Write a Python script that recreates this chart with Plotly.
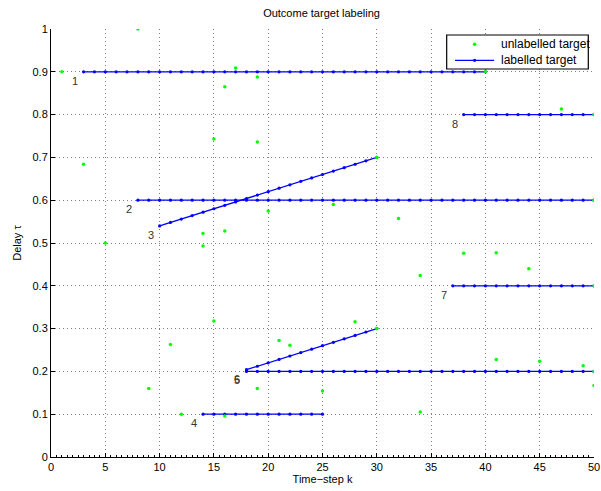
import plotly.graph_objects as go

# Unlabelled target measurements (time-step k, delay tau)
unlabelled_k = [1, 8, 17, 16, 19, 3, 15, 19, 20, 14, 16, 5, 14, 15, 11, 21, 22, 9, 19,
                12, 16, 40, 47, 26, 32, 38, 41, 44, 34, 28, 41, 45, 49, 50, 25, 34,
                30, 30, 50, 50, 50, 50]
unlabelled_tau = [0.900, 1.000, 0.909, 0.865, 0.888, 0.684, 0.743, 0.736, 0.575, 0.522,
                  0.528, 0.500, 0.493, 0.318, 0.263, 0.272, 0.261, 0.160, 0.160, 0.100,
                  0.096, 0.900, 0.813, 0.590, 0.557, 0.476, 0.477, 0.440, 0.424, 0.316,
                  0.228, 0.224, 0.213, 0.167, 0.154, 0.105, 0.700, 0.300, 0.800, 0.600,
                  0.400, 0.200]

# Labelled target tracks
track_ids = ["1", "2", "3", "4", "5", "6", "7", "8"]
track_k = [
    list(range(3, 41)),
    list(range(8, 51)),
    list(range(10, 31)),
    list(range(14, 26)),
    list(range(18, 51)),
    list(range(18, 31)),
    list(range(37, 51)),
    list(range(38, 51)),
]
track_tau = [
    [0.9] * 38,
    [0.6] * 43,
    [0.540, 0.548, 0.556, 0.564, 0.572, 0.580, 0.588, 0.596, 0.604, 0.612, 0.620,
     0.628, 0.636, 0.644, 0.652, 0.660, 0.668, 0.676, 0.684, 0.692, 0.700],
    [0.1] * 12,
    [0.2] * 33,
    [0.204, 0.212, 0.220, 0.228, 0.236, 0.244, 0.252, 0.260, 0.268, 0.276, 0.284,
     0.292, 0.300],
    [0.4] * 14,
    [0.8] * 13,
]

x_ticks = list(range(0, 51, 5))
y_ticks = [0, 0.1, 0.2, 0.3, 0.4, 0.5, 0.6, 0.7, 0.8, 0.9, 1]

legend_labels = ["unlabelled target", "labelled target"]

FONT = "Liberation Sans, Arial, sans-serif"
BLUE = "#0000ff"
GREEN = "#00ff00"

fig = go.Figure()

for i, (tid, ks, taus) in enumerate(zip(track_ids, track_k, track_tau)):
    fig.add_trace(go.Scatter(
        x=ks, y=taus, mode="lines+markers",
        line=dict(color=BLUE, width=1.3),
        marker=dict(color=BLUE, size=3.2),
        name="labelled target", showlegend=False,
    ))
    fig.add_annotation(
        x=ks[0], y=taus[0], text=tid, showarrow=False,
        xshift=-9, yshift=-9,
        font=dict(family=FONT, size=11, color="#333333"),
    )

fig.add_trace(go.Scatter(
    x=unlabelled_k, y=unlabelled_tau, mode="markers",
    marker=dict(color=GREEN, size=3.5),
    name="unlabelled target", showlegend=False,
))

# Compact boxed legend in the top-right corner
box = dict(x0=0.7287, x1=0.9895, y0=0.9065, y1=0.986)
row_y = [0.9643, 0.9269]
sample_x0, sample_x1, sample_mid = 0.744, 0.816, 0.7802
fig.add_shape(type="rect", xref="paper", yref="paper", layer="above",
              fillcolor="white", line=dict(color="black", width=1.2), **box)
# unlabelled sample: a single green dot
fig.add_shape(type="circle", xref="paper", yref="paper", layer="above",
              xsizemode="pixel", ysizemode="pixel",
              xanchor=sample_mid, yanchor=row_y[0], x0=-1.8, x1=1.8, y0=-1.8, y1=1.8,
              fillcolor=GREEN, line=dict(width=0))
# labelled sample: blue line with a dot
fig.add_shape(type="line", xref="paper", yref="paper", layer="above",
              x0=sample_x0, x1=sample_x1, y0=row_y[1], y1=row_y[1],
              line=dict(color=BLUE, width=1.3))
fig.add_shape(type="circle", xref="paper", yref="paper", layer="above",
              xsizemode="pixel", ysizemode="pixel",
              xanchor=sample_mid, yanchor=row_y[1], x0=-1.6, x1=1.6, y0=-1.6, y1=1.6,
              fillcolor=BLUE, line=dict(width=0))
for label, ry in zip(legend_labels, row_y):
    fig.add_annotation(xref="paper", yref="paper", x=0.8245, y=ry, text=label,
                       xanchor="left", yanchor="middle", showarrow=False,
                       font=dict(family=FONT, size=12, color="black"))

axis_common = dict(
    showline=True, linecolor="black", linewidth=1, mirror=False,
    ticks="inside", ticklen=4, tickcolor="black",
    showgrid=True, gridcolor="rgba(0,0,0,0.5)", griddash="1px,3px", gridwidth=1,
    zeroline=False, automargin=False,
    tickfont=dict(family=FONT, size=11, color="black"),
)

fig.update_layout(
    width=601, height=491,
    margin=dict(l=51, r=7, t=29, b=34, autoexpand=False),
    paper_bgcolor="white", plot_bgcolor="white",
    font=dict(family=FONT, size=11, color="black"),
    title=dict(text="Outcome target labeling", x=0.535, xanchor="center",
               y=0.982, yanchor="top", font=dict(family=FONT, size=11)),
    xaxis=dict(range=[0, 50], tickvals=x_ticks, **axis_common,
               minor=dict(ticks="inside", ticklen=2, dtick=0.5, tickcolor="black", showgrid=False),
               title=dict(text="Time−step k", standoff=2, font=dict(family=FONT, size=11))),
    yaxis=dict(range=[0, 1], tickvals=y_ticks, **axis_common,
               title=dict(text="Delay τ", standoff=8, font=dict(family=FONT, size=11))),
    showlegend=False,
)

fig.write_html("out.html")
